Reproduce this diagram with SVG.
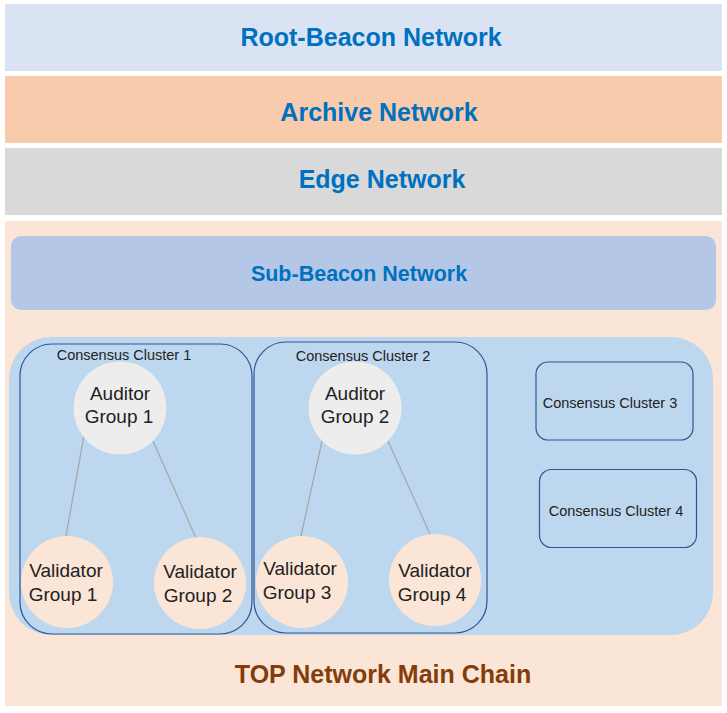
<svg xmlns="http://www.w3.org/2000/svg" width="727" height="713" viewBox="0 0 727 713">
<style>
.hdr{font-family:"Liberation Sans",Arial,sans-serif;font-weight:bold;font-size:25px;fill:#0070c0;text-anchor:middle}
.sub{font-family:"Liberation Sans",Arial,sans-serif;font-weight:bold;font-size:21.5px;fill:#0070c0;text-anchor:middle}
.top{font-family:"Liberation Sans",Arial,sans-serif;font-weight:bold;font-size:25px;fill:#843c0c;text-anchor:middle}
.cl{fill:none;stroke:#2f5597;stroke-width:1.2}
.clt{font-family:"Liberation Sans",Arial,sans-serif;font-size:14.5px;fill:#222;text-anchor:middle}
.nt{font-family:"Liberation Sans",Arial,sans-serif;font-size:19px;fill:#222;text-anchor:middle}
.aud{fill:#ededed}
.val{fill:#fbe5d6}
.edge{stroke:#a6a6a6;stroke-width:1.2;fill:none}
</style>
<rect width="727" height="713" fill="#ffffff"/>
<g id="root-beacon">
<rect x="5" y="4" width="717" height="67" fill="#dae3f3"/>
<text class="hdr" x="371" y="46">Root-Beacon Network</text>
</g>
<g id="archive">
<rect x="5" y="76" width="717" height="67" fill="#f8cbad"/>
<text class="hdr" x="379" y="121">Archive Network</text>
</g>
<g id="edge-network">
<rect x="5" y="148" width="717" height="67" fill="#d9d9d9"/>
<text class="hdr" x="382" y="188">Edge Network</text>
</g>
<g id="main-chain">
<rect x="5" y="221" width="717" height="485" fill="#fbe5d6"/>
<text class="top" x="383" y="683">TOP Network Main Chain</text>
</g>
<g id="sub-beacon">
<rect x="11" y="236" width="705" height="74" rx="10" fill="#b4c7e7"/>
<text class="sub" x="359" y="281">Sub-Beacon Network</text>
</g>
<g id="cluster-area">
<rect x="9" y="337" width="704" height="298" rx="42" fill="#bdd7ee"/>
</g>
<g id="cluster1">
<rect class="cl" x="20" y="344" width="232" height="290" rx="32"/>
<text class="clt" x="124" y="360">Consensus Cluster 1</text>
</g>
<g id="cluster2">
<rect class="cl" x="254" y="342" width="233" height="291" rx="32"/>
<text class="clt" x="363" y="361">Consensus Cluster 2</text>
</g>
<g id="cluster3">
<rect class="cl" x="536" y="362" width="157" height="78" rx="12"/>
<text class="clt" x="610" y="408">Consensus Cluster 3</text>
</g>
<g id="cluster4">
<rect class="cl" x="539.5" y="469.5" width="157" height="78" rx="12"/>
<text class="clt" x="616" y="516">Consensus Cluster 4</text>
</g>
<g id="connectors">
<line class="edge" x1="88" y1="413" x2="66" y2="536"/>
<line class="edge" x1="153" y1="441" x2="196" y2="538"/>
<line class="edge" x1="322" y1="441" x2="301" y2="536"/>
<line class="edge" x1="388" y1="441" x2="430" y2="534"/>
</g>
<g id="auditor1">
<circle class="aud" cx="120" cy="408" r="46.5"/>
<text class="nt" x="120" y="400">Auditor</text>
<text class="nt" x="119" y="423">Group 1</text>
</g>
<g id="auditor2">
<circle class="aud" cx="355" cy="408" r="46.5"/>
<text class="nt" x="355" y="400">Auditor</text>
<text class="nt" x="355" y="423">Group 2</text>
</g>
<g id="validator1">
<circle class="val" cx="67" cy="582" r="46"/>
<text class="nt" x="66" y="577">Validator</text>
<text class="nt" x="63" y="601">Group 1</text>
</g>
<g id="validator2">
<circle class="val" cx="200" cy="583" r="46"/>
<text class="nt" x="200" y="578">Validator</text>
<text class="nt" x="198" y="602">Group 2</text>
</g>
<g id="validator3">
<circle class="val" cx="302" cy="582" r="46"/>
<text class="nt" x="300" y="575">Validator</text>
<text class="nt" x="297" y="599">Group 3</text>
</g>
<g id="validator4">
<circle class="val" cx="435" cy="580" r="46"/>
<text class="nt" x="435" y="577">Validator</text>
<text class="nt" x="432" y="601">Group 4</text>
</g>
</svg>
